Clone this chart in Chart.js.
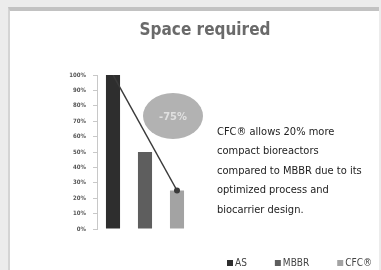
<!DOCTYPE html>
<html>
<head>
<meta charset="utf-8">
<script src="https://cdn.jsdelivr.net/npm/chart.js@4.4.1/dist/chart.umd.min.js"></script>
<style>
  body { margin: 0; background: #ececec; width: 381px; height: 270px; overflow: hidden; position: relative; }
  #frame { position: absolute; left: 8px; top: 7px; right: 2px; bottom: 0; background: #fff;
           border-top: 4px solid #c2c2c2; border-left: 2px solid #d4d4d4; }
  #wrap { position: absolute; left: 0; top: 0; width: 381px; height: 270px; }
</style>
</head>
<body>
<div id="frame"></div>
<div id="wrap"><canvas id="chart" width="381" height="270"></canvas></div>
<script>
// Data
const categories = ['AS', 'MBBR', 'CFC®'];
const spaceValues = [100, 50, 25];
const trendValues = [100, null, 25];
const barColors = ['#2e2e2e', '#5e5e5e', '#a3a3a3'];
const reductionLabel = '-75%';
const noteLines = [
  'CFC® allows 20% more',
  'compact bioreactors',
  'compared to MBBR due to its',
  'optimized process and',
  'biocarrier design.'
];

const narrow = '"Liberation Sans Narrow", "DejaVu Sans Condensed", sans-serif';

// Title, ellipse, note text and legend
const extras = {
  id: 'extras',
  afterDraw(chart) {
    const ctx = chart.ctx;
    const area = chart.chartArea;
    ctx.save();

    // title
    ctx.fillStyle = '#6a6a6a';
    ctx.font = 'bold 17px ' + narrow;
    ctx.textAlign = 'center';
    ctx.textBaseline = 'middle';
    ctx.fillText('Space required', 205, 31);

    // ellipse with reduction
    const ex = area.right - 20, ey = 116;
    ctx.fillStyle = '#b2b2b2';
    ctx.beginPath();
    ctx.ellipse(ex, ey, 30, 23, 0, 0, Math.PI * 2);
    ctx.fill();
    ctx.fillStyle = '#e0e0e0';
    ctx.font = 'bold 11px ' + narrow;
    ctx.fillText(reductionLabel, ex, ey + 1);

    // note
    ctx.fillStyle = '#222';
    ctx.font = '11px ' + narrow;
    ctx.textAlign = 'left';
    noteLines.forEach((line, i) => {
      ctx.fillText(line, 217, 132 + i * 19.5);
    });

    // legend
    let x = 227;
    const y = 263;
    ctx.font = '10px ' + narrow;
    categories.forEach((cat, i) => {
      ctx.fillStyle = barColors[i];
      ctx.fillRect(x, y - 3, 6, 6);
      ctx.fillStyle = '#444';
      ctx.fillText(cat, x + 8, y);
      x += 8 + ctx.measureText(cat).width + 28;
    });

    ctx.restore();
  }
};

new Chart(document.getElementById('chart'), {
  type: 'bar',
  data: {
    labels: categories,
    datasets: [
      {
        type: 'line',
        data: trendValues,
        spanGaps: true,
        borderColor: '#3a3a3a',
        borderWidth: 1.5,
        pointRadius: [0, 0, 3],
        pointBackgroundColor: '#3a3a3a',
        pointBorderWidth: 0,
        order: 0
      },
      {
        data: spaceValues,
        backgroundColor: barColors,
        categoryPercentage: 1,
        barPercentage: 0.44,
        order: 1
      }
    ]
  },
  plugins: [extras],
  options: {
    responsive: false,
    animation: false,
    layout: { padding: { left: 0, right: 188, top: 75, bottom: 41 } },
    plugins: {
      legend: { display: false },
      title: { display: false },
      tooltip: { enabled: false }
    },
    scales: {
      x: { display: false },
      y: {
        min: 0,
        max: 100,
        afterFit: (scale) => { scale.width = 97; },
        ticks: {
          stepSize: 10,
          padding: 7,
          color: '#555',
          font: { size: 6, weight: 'bold', family: narrow },
          callback: (v) => v + '%'
        },
        grid: { drawOnChartArea: false, tickLength: 4, color: '#c8c8c8' },
        border: { color: '#c8c8c8' }
      }
    }
  }
});
</script>
</body>
</html>
